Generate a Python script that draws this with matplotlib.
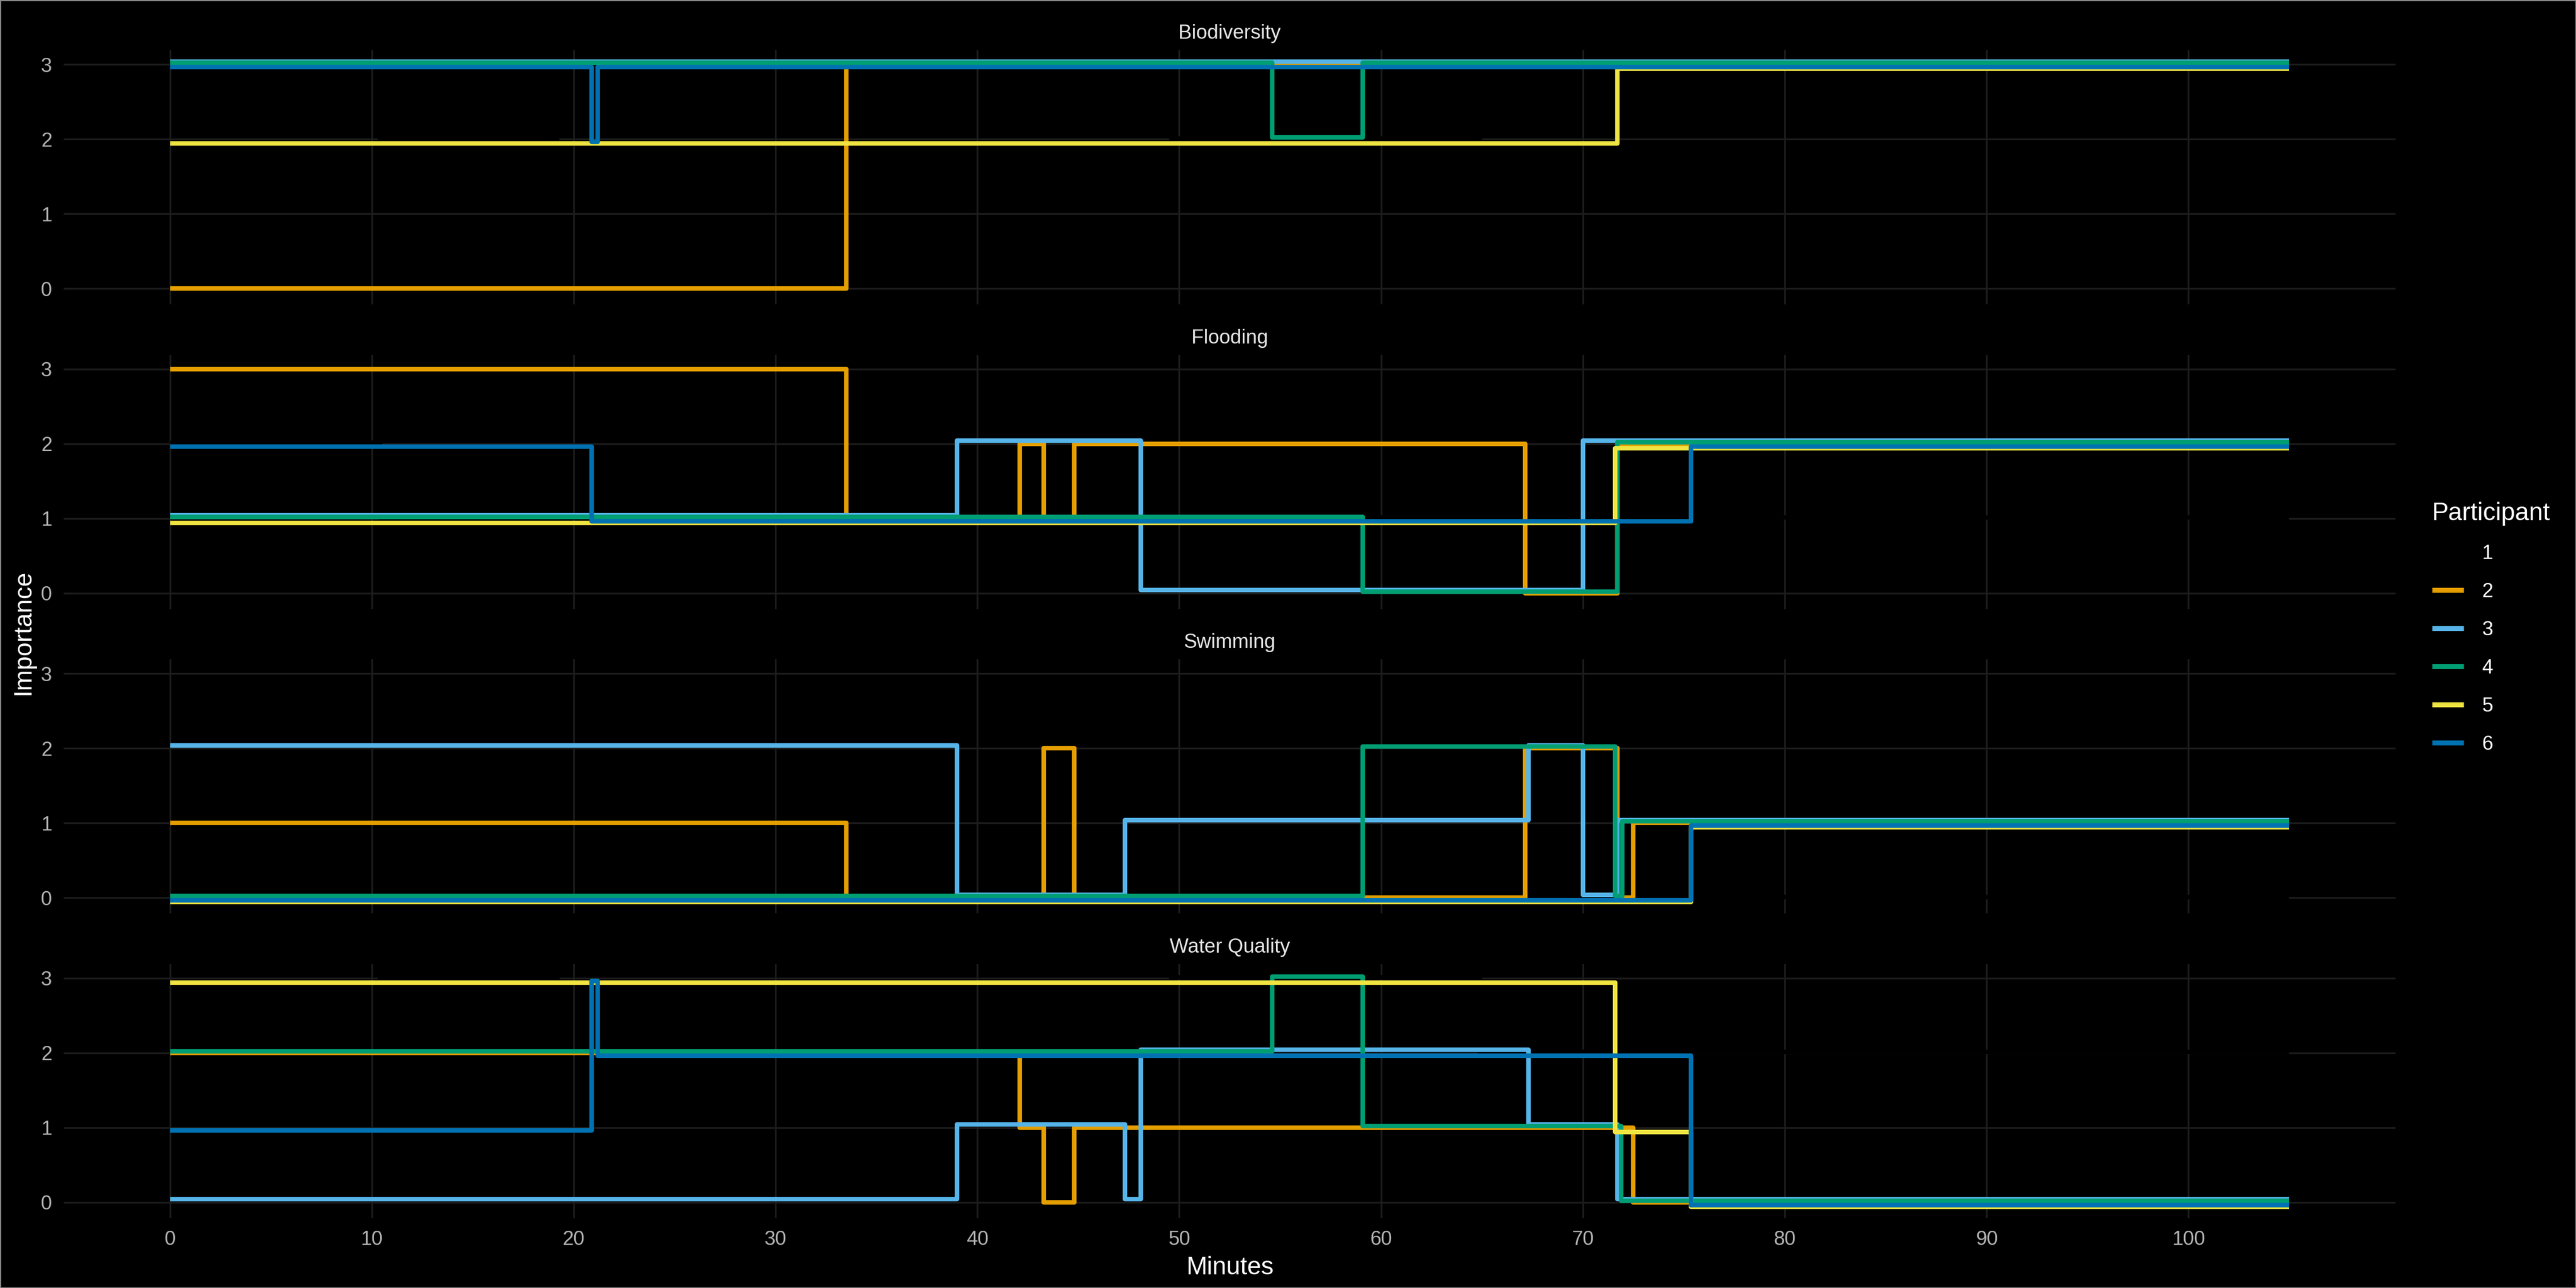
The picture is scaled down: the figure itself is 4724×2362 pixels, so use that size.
import matplotlib
matplotlib.use("Agg")
import matplotlib.pyplot as plt
from matplotlib.lines import Line2D
from matplotlib.patches import Rectangle

plt.rcParams["font.family"] = ["Liberation Sans", "DejaVu Sans"]

# ---- data: change times (minutes) and importance level after each change ----
END_TIME = 105
TOPICS = ["Biodiversity", "Flooding", "Swimming", "Water Quality"]
PARTICIPANTS = [1, 2, 3, 4, 5, 6]

BIODIVERSITY = {
    1: ([0, 10.4, 19.2, 49.6, 64.9], [3, 2, 3, 2, 3]),
    2: ([0, 33.5], [0, 3]),
    3: ([0], [3]),
    4: ([0, 54.6, 59.1], [3, 2, 3]),
    5: ([0, 71.7], [2, 3]),
    6: ([0, 20.9, 21.2], [3, 2, 3]),
}
FLOODING = {
    1: ([0, 10.4], [2, 1]),
    2: ([0, 33.5, 42.1, 43.3, 44.8, 67.15, 71.7], [3, 1, 2, 1, 2, 0, 2]),
    3: ([0, 39.0, 48.1, 70.0], [1, 2, 0, 2]),
    4: ([0, 59.1, 71.7], [1, 0, 2]),
    5: ([0, 71.6], [1, 2]),
    6: ([0, 20.9, 75.35], [2, 1, 2]),
}
SWIMMING = {
    1: ([0], [0]),
    2: ([0, 33.5, 43.3, 44.8, 67.15, 71.7, 72.5], [1, 0, 2, 0, 2, 0, 1]),
    3: ([0, 39.0, 47.3, 67.3, 70.0, 71.7], [2, 0, 1, 2, 0, 1]),
    4: ([0, 59.1, 71.6, 71.95], [0, 2, 0, 1]),
    5: ([0, 75.35], [0, 1]),
    6: ([0, 75.35], [0, 1]),
}
WATER_QUALITY = {
    1: ([0, 10.4, 19.2, 49.6, 64.9], [2, 3, 2, 3, 2]),
    2: ([0, 42.1, 43.3, 44.8, 72.5], [2, 1, 0, 1, 0]),
    3: ([0, 39.0, 47.3, 48.1, 67.3, 71.7], [0, 1, 0, 2, 1, 0]),
    4: ([0, 54.6, 59.1, 71.9], [2, 3, 1, 0]),
    5: ([0, 71.6, 75.35], [3, 1, 0]),
    6: ([0, 20.9, 21.2, 75.35], [1, 3, 2, 0]),
}
PANELS = [BIODIVERSITY, FLOODING, SWIMMING, WATER_QUALITY]

# ---- style ----
COLORS = {1: "#000000", 2: "#E69F00", 3: "#56B4E9", 4: "#009E73", 5: "#F0E442", 6: "#0072B2"}
NUDGE = {1: 0.012, 2: 0.0, 3: 0.04, 4: 0.022, 5: -0.06, 6: -0.037}  # small vertical jitter
BG = "#000000"
GRID = "#1c1c1c"
TICK = "#b3b3b3"
TEXT = "#ffffff"
STRIP = "#e6e6e6"

fig, axes = plt.subplots(4, 1, figsize=(4724 / 300, 2362 / 300), dpi=300, sharex=True)
fig.patch.set_facecolor(BG)
fig.subplots_adjust(left=0.0248, right=0.9299, top=0.961, bottom=0.0544, hspace=0.1985)

for ax, topic, panel in zip(axes, TOPICS, PANELS):
    ax.set_facecolor(BG)
    for p in PARTICIPANTS:
        t, v = panel[p]
        xs = list(t) + [END_TIME]
        ys = [y + NUDGE[p] for y in list(v) + [v[-1]]]
        ax.step(xs, ys, where="post", color=COLORS[p], lw=2.0,
                solid_joinstyle="round", solid_capstyle="butt", zorder=3)
    ax.set_xlim(-5.25, 110.25)
    ax.set_ylim(-0.21, 3.19)
    ax.set_yticks([0, 1, 2, 3])
    ax.set_xticks(range(0, 101, 10))
    ax.grid(True, color=GRID, lw=0.8, zorder=0)
    ax.set_axisbelow(True)
    for s in ax.spines.values():
        s.set_visible(False)
    ax.tick_params(length=0, colors=TICK, labelsize=8.8, pad=5.3)
    ax.set_title(topic, color=STRIP, fontsize=8.8, pad=5.0)

axes[-1].set_xlabel("Minutes", color=TEXT, fontsize=11, labelpad=3)
fig.text(0.0090, 0.509, "Importance", rotation=90, color=TEXT, fontsize=11,
         ha="center", va="center")

handles = [Line2D([], [], color=COLORS[p], lw=2.2, solid_capstyle="butt") for p in PARTICIPANTS]
leg = fig.legend(handles, [str(p) for p in PARTICIPANTS], title="Participant",
                 loc="upper left", bbox_to_anchor=(4445 / 4724, 1 - 905 / 2362),
                 frameon=False, fontsize=8.8, title_fontsize=11,
                 handlelength=1.6, handletextpad=0.9, labelspacing=0.95,
                 alignment="left", borderaxespad=0)
for txt in leg.get_texts():
    txt.set_color(TEXT)
leg.get_title().set_color(TEXT)

fig.patches.append(Rectangle((0, 0), 1, 1, transform=fig.transFigure, fill=False,
                             edgecolor="#8c8c8c", lw=0.8))

fig.savefig("out.png", dpi=300, facecolor=fig.get_facecolor())
